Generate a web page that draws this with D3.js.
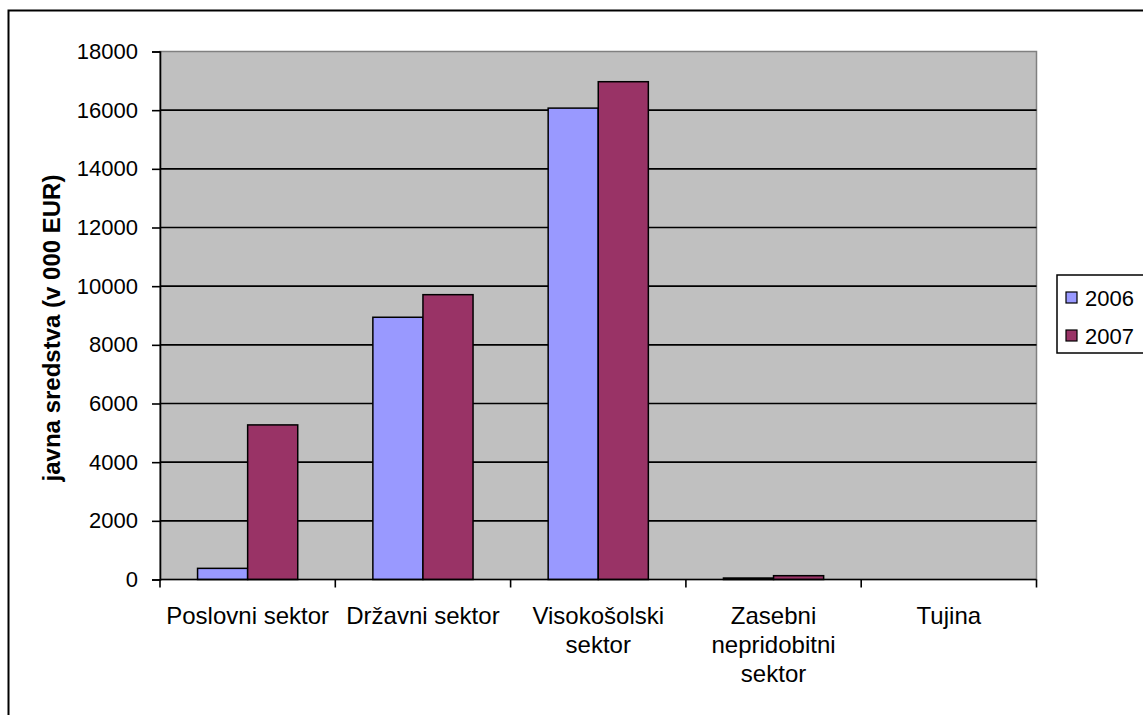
<!DOCTYPE html>
<html>
<head>
<meta charset="utf-8">
<script src="https://cdn.jsdelivr.net/npm/d3@7"></script>
<style>
  html, body { margin: 0; padding: 0; background: #fff; overflow: hidden; }
  svg { display: block; font-family: "Liberation Sans", Arial, sans-serif; }
</style>
</head>
<body>
<svg id="chart" width="1143" height="715"></svg>
<script>
// Public funding by sector, thousands of EUR
const categories = [
  ["Poslovni sektor"],
  ["Državni sektor"],
  ["Visokošolski", "sektor"],
  ["Zasebni", "nepridobitni", "sektor"],
  ["Tujina"]
];
const seriesNames = ["2006", "2007"];
const values2006 = [380, 8940, 16070, 50, 0];
const values2007 = [5270, 9710, 16970, 130, 0];
const yTicks = [0, 2000, 4000, 6000, 8000, 10000, 12000, 14000, 16000, 18000];
const colors = ["#9999FF", "#993366"];
const yTitle = "javna sredstva (v 000 EUR)";

const svg = d3.select("#chart");
const plot = { left: 160, top: 51.5, right: 1036.5, bottom: 579.5 };

// outer chart frame
svg.append("rect")
  .attr("x", 8.5).attr("y", 10.5)
  .attr("width", 1200).attr("height", 800)
  .attr("fill", "none").attr("stroke", "#000").attr("stroke-width", 2);

const catKeys = categories.map(c => c.join(" "));
const x0 = d3.scaleBand().domain(catKeys).range([plot.left, plot.right]).padding(0);
const x1 = d3.scaleBand().domain(seriesNames).range([0, x0.bandwidth()])
  .paddingInner(0).paddingOuter(0.75);
const y = d3.scaleLinear().domain([0, 18000]).range([plot.bottom, plot.top]);

// plot background
svg.append("rect")
  .attr("x", plot.left).attr("y", plot.top)
  .attr("width", plot.right - plot.left).attr("height", plot.bottom - plot.top)
  .attr("fill", "#C0C0C0").attr("stroke", "#808080").attr("stroke-width", 1.5);

// horizontal gridlines
svg.append("g").selectAll("line")
  .data(yTicks.filter(t => t > 0 && t < 18000))
  .join("line")
  .attr("x1", plot.left).attr("x2", plot.right)
  .attr("y1", d => y(d)).attr("y2", d => y(d))
  .attr("stroke", "#000").attr("stroke-width", 1.6);

// bars
const series = [values2006, values2007];
const groups = svg.append("g").selectAll("g")
  .data(catKeys)
  .join("g")
  .attr("transform", d => `translate(${x0(d)},0)`);
groups.selectAll("rect")
  .data((d, i) => seriesNames.map((s, j) => ({ s, v: series[j][i], c: colors[j] })))
  .join("rect")
  .attr("x", d => x1(d.s))
  .attr("y", d => y(d.v))
  .attr("width", x1.bandwidth())
  .attr("height", d => y(0) - y(d.v))
  .attr("fill", d => d.c)
  .attr("stroke", "#000").attr("stroke-width", 1.5);

// y axis
const yAxis = svg.append("g")
  .attr("transform", `translate(${plot.left},0)`)
  .call(d3.axisLeft(y).tickValues(yTicks).tickSize(8).tickPadding(14).tickFormat(d3.format("d")));
yAxis.select(".domain").attr("stroke", "#000").attr("stroke-width", 1.6);
yAxis.selectAll(".tick line").attr("stroke", "#000").attr("stroke-width", 1.6);
yAxis.selectAll(".tick text")
  .attr("font-size", 22).attr("fill", "#000")
  .attr("font-family", "'Liberation Sans', Arial, sans-serif");

// x axis: ticks sit between categories
const bounds = catKeys.map(k => x0(k)).concat([plot.right]);
svg.append("line")
  .attr("x1", plot.left).attr("x2", plot.right)
  .attr("y1", plot.bottom).attr("y2", plot.bottom)
  .attr("stroke", "#000").attr("stroke-width", 1.6);
svg.append("g").selectAll("line")
  .data(bounds)
  .join("line")
  .attr("x1", d => d).attr("x2", d => d)
  .attr("y1", plot.bottom).attr("y2", plot.bottom + 8)
  .attr("stroke", "#000").attr("stroke-width", 1.6);

// category labels
const labels = svg.append("g").selectAll("text")
  .data(categories)
  .join("text")
  .attr("x", (d, i) => x0(catKeys[i]) + x0.bandwidth() / 2)
  .attr("y", 624)
  .attr("text-anchor", "middle")
  .attr("font-size", 24).attr("fill", "#000");
labels.selectAll("tspan")
  .data(d => d)
  .join("tspan")
  .attr("x", function () { return d3.select(this.parentNode).attr("x"); })
  .attr("dy", (d, i) => i === 0 ? 0 : 29)
  .text(d => d);

// y axis title
svg.append("text")
  .attr("transform", "translate(60,328) rotate(-90)")
  .attr("text-anchor", "middle")
  .attr("font-size", 24).attr("font-weight", "bold").attr("fill", "#000")
  .text(yTitle);

// legend
const legend = svg.append("g");
legend.append("rect")
  .attr("x", 1057).attr("y", 275).attr("width", 100).attr("height", 78)
  .attr("fill", "#fff").attr("stroke", "#000").attr("stroke-width", 1.5);
const items = legend.selectAll("g.item")
  .data(seriesNames)
  .join("g").attr("class", "item")
  .attr("transform", (d, i) => `translate(1066,${298 + i * 38})`);
items.append("rect")
  .attr("x", 0).attr("y", -6).attr("width", 11).attr("height", 11)
  .attr("fill", (d, i) => colors[i]).attr("stroke", "#000").attr("stroke-width", 1.2);
items.append("text")
  .attr("x", 19).attr("y", 8)
  .attr("font-size", 22).attr("fill", "#000")
  .text(d => d);
</script>
</body>
</html>
